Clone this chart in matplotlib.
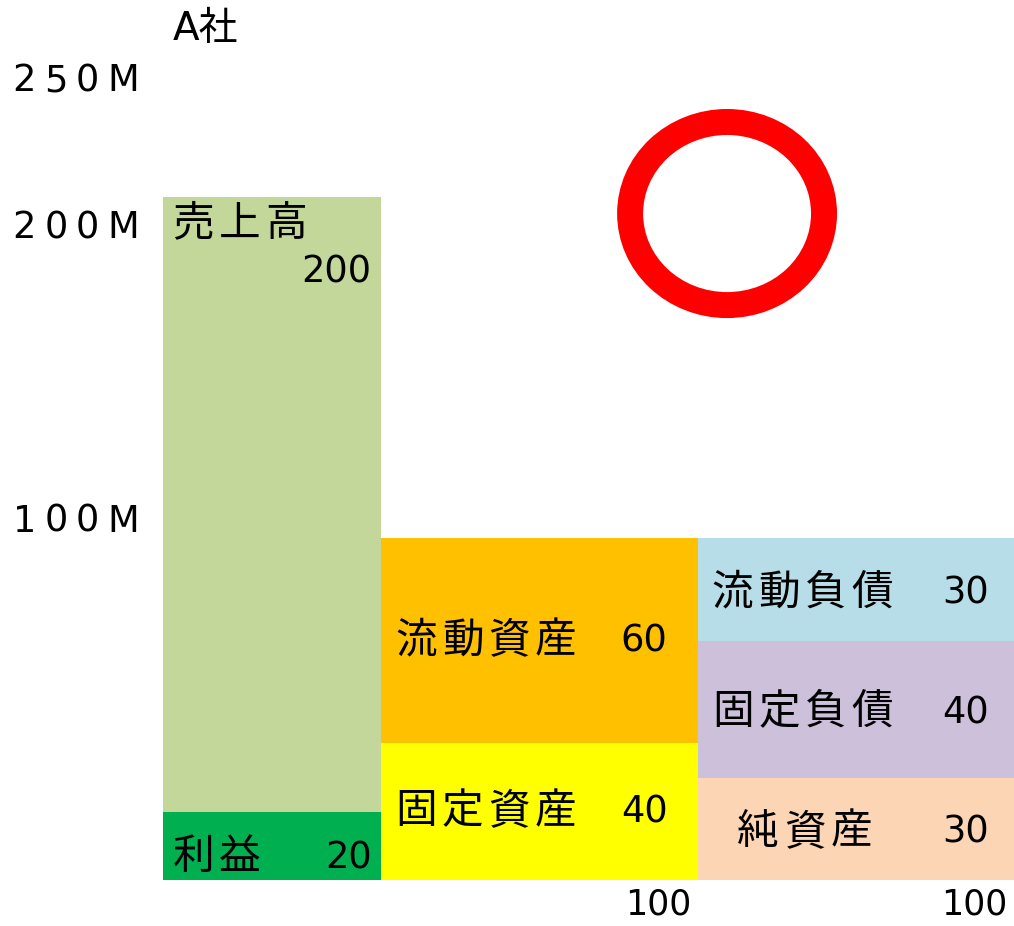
import matplotlib.pyplot as plt
from matplotlib.patches import Ellipse
from matplotlib.transforms import offset_copy

plt.rcParams['font.family'] = ['Noto Sans CJK JP', 'DejaVu Sans']

# 損益計算書（売上高・利益）
sales = 200
profit = 20
# 貸借対照表 左側（資産）
asset_names = ['固定資産', '流動資産']
asset_vals = [40, 60]
asset_colors = ['#FFFF00', '#FFC000']
# 貸借対照表 右側（負債・純資産）
liab_names = ['純資産', '固定負債', '流動負債']
liab_vals = [30, 40, 30]
liab_colors = ['#FCD5B4', '#CCC0DA', '#B7DEE8']

ytick_pos = [234, 191, 105]
ytick_lab = ['250M', '200M', '100M']

# 列の幅
w_pl = 69
w_bs = 100
x_asset = w_pl
x_liab = w_pl + w_bs

fig = plt.figure(figsize=(10.14, 9.26), dpi=100)
ax = fig.add_axes([163 / 1014, 46 / 926, 851 / 1014, 854 / 926])
ax.set_xlim(0, w_pl + 2 * w_bs)
ax.set_ylim(0, 250)
ax.axis('off')

fs = 30
nfs = 26.5
num_font = ['DejaVu Sans']


def jtext(x, y, s, pitch=46.5, size=fs, family=None):
    # 文字間を空けて1文字ずつ描く
    for i, ch in enumerate(s):
        tr = offset_copy(ax.transData, fig=fig, x=i * pitch, y=0, units='dots')
        ax.text(x, y, ch, fontsize=size, va='center', ha='left', transform=tr,
                family=family, clip_on=False)


# 売上高と利益
ax.bar(0, sales, width=w_pl, align='edge', color='#C4D79B')
ax.bar(0, profit, width=w_pl, align='edge', color='#00B050')
jtext(3, sales - 8, '売上高')
ax.text(w_pl - 3, sales - 22, str(sales), fontsize=nfs, va='center', ha='right', family=num_font)
jtext(3, profit / 2 - 3.5, '利益')
ax.text(w_pl - 3, profit / 2 - 3.5, str(profit), fontsize=nfs, va='center', ha='right', family=num_font)

# 資産
bottom = 0
for name, v, c in zip(asset_names, asset_vals, asset_colors):
    ax.bar(x_asset, v, width=w_bs, bottom=bottom, align='edge', color=c)
    jtext(x_asset + 4.5, bottom + v / 2, name)
    ax.text(x_asset + 90.5, bottom + v / 2, str(v), fontsize=nfs, va='center', ha='right', family=num_font)
    bottom += v

# 負債・純資産
bottom = 0
for name, v, c in zip(liab_names, liab_vals, liab_colors):
    ax.bar(x_liab, v, width=w_bs, bottom=bottom, align='edge', color=c)
    tx = x_liab + 12.5 if name == '純資産' else x_liab + 4.5
    jtext(tx, bottom + v / 2 - 1, name)
    ax.text(x_liab + 92, bottom + v / 2 - 1, str(v), fontsize=nfs, va='center', ha='right', family=num_font)
    bottom += v

# 縦軸ラベル
for y, lab in zip(ytick_pos, ytick_lab):
    jtext(-47.5, y, lab, pitch=31.5, size=26.5, family=num_font)

# 横軸ラベル
for xr in [x_asset + w_bs, x_liab + w_bs]:
    ax.text(xr - 2, -7.3, str(w_bs), fontsize=25, va='center', ha='right',
            family=num_font, clip_on=False)

ax.text(3, 249, 'A社', fontsize=28, va='center', ha='left', clip_on=False,
        family=['DejaVu Sans', 'Noto Sans CJK JP'])

# 赤丸
ax.add_patch(Ellipse((178.3, 195.1), 61.3, 53.6, fill=False,
                     edgecolor='#FF0000', linewidth=18.7))

fig.savefig('out.png', dpi=100)
